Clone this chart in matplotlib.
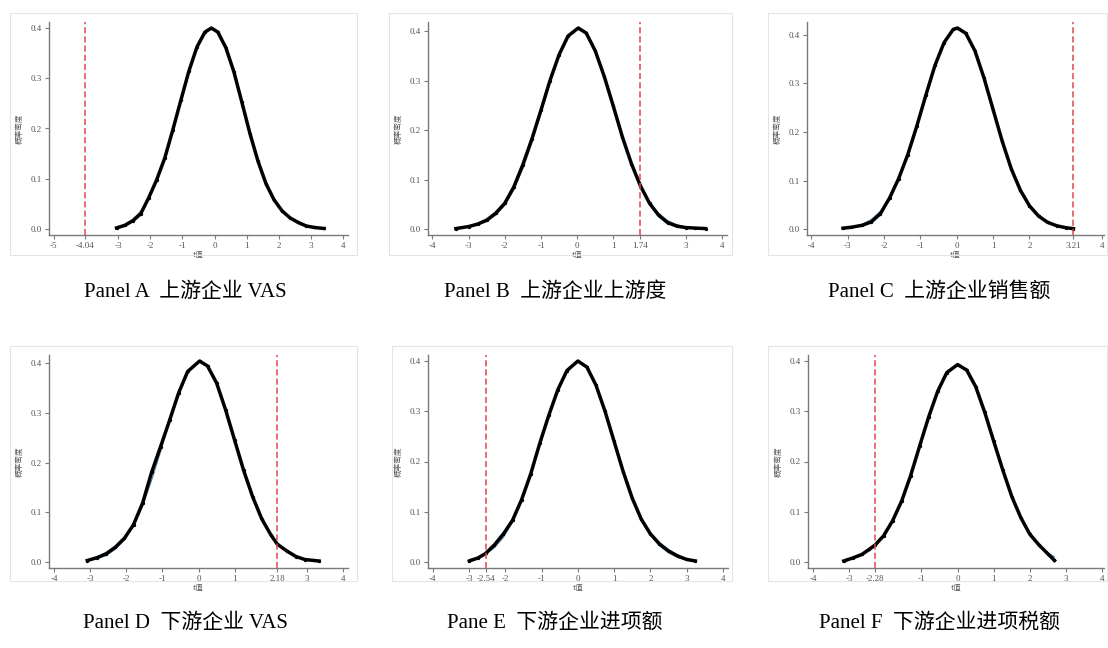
import matplotlib
matplotlib.use('Agg')
import matplotlib.pyplot as plt
from matplotlib.patches import Rectangle

plt.rcParams['axes.unicode_minus'] = False

# panel A
a_x = [-3.05, -2.8, -2.55, -2.3, -2.05, -1.8, -1.55, -1.3, -1.05, -0.8, -0.55, -0.3, -0.1,
       0.1, 0.35, 0.6, 0.85, 1.1, 1.35, 1.6, 1.85, 2.1, 2.35, 2.6, 2.85, 3.1, 3.4]
a_kd = [0.002, 0.007, 0.016, 0.030, 0.062, 0.098, 0.141, 0.197, 0.256, 0.314, 0.362, 0.392, 0.400,
        0.392, 0.361, 0.313, 0.252, 0.190, 0.135, 0.090, 0.058, 0.036, 0.022, 0.013, 0.006, 0.003, 0.001]
a_nm = [0.004, 0.009, 0.019, 0.035, 0.060, 0.094, 0.139, 0.194, 0.254, 0.312, 0.360, 0.391, 0.399,
        0.391, 0.360, 0.312, 0.254, 0.194, 0.139, 0.094, 0.060, 0.036, 0.020, 0.011, 0.005, 0.003, 0.001]
a_t = -4.04
a_ticks = [-5, -4.04, -3, -2, -1, 0, 1, 2, 3, 4]

# panel B
b_x = [-3.35, -3.0, -2.75, -2.5, -2.25, -2.0, -1.75, -1.5, -1.25, -1.0, -0.75, -0.5, -0.25, 0.03,
       0.25, 0.5, 0.75, 1.0, 1.25, 1.5, 1.75, 2.0, 2.25, 2.5, 2.75, 3.0, 3.25, 3.55]
b_kd = [0.001, 0.005, 0.010, 0.018, 0.032, 0.052, 0.085, 0.130, 0.182, 0.240, 0.300, 0.352, 0.390, 0.406,
        0.396, 0.360, 0.308, 0.248, 0.186, 0.132, 0.087, 0.052, 0.028, 0.013, 0.006, 0.003, 0.002, 0.001]
b_nm = [0.001, 0.004, 0.008, 0.015, 0.028, 0.048, 0.079, 0.122, 0.174, 0.233, 0.296, 0.350, 0.389, 0.405,
        0.395, 0.361, 0.310, 0.251, 0.188, 0.134, 0.088, 0.055, 0.032, 0.017, 0.009, 0.004, 0.002, 0.001]
b_t = 1.74
b_ticks = [-4, -3, -2, -1, 0, 1, 1.74, 3, 4]

# panel C
c_x = [-3.13, -2.9, -2.6, -2.35, -2.1, -1.85, -1.6, -1.35, -1.1, -0.85, -0.6, -0.35, -0.1, 0.02,
       0.25, 0.5, 0.75, 1.0, 1.25, 1.5, 1.75, 2.0, 2.25, 2.5, 2.75, 3.0, 3.21]
c_kd = [0.002, 0.004, 0.008, 0.015, 0.032, 0.064, 0.104, 0.153, 0.212, 0.276, 0.337, 0.384, 0.411, 0.414,
        0.403, 0.367, 0.311, 0.246, 0.181, 0.124, 0.080, 0.048, 0.027, 0.014, 0.007, 0.003, 0.001]
c_nm = [0.002, 0.004, 0.010, 0.020, 0.037, 0.063, 0.101, 0.151, 0.211, 0.276, 0.338, 0.385, 0.411, 0.414,
        0.402, 0.366, 0.310, 0.246, 0.183, 0.127, 0.082, 0.050, 0.028, 0.015, 0.007, 0.004, 0.002]
c_t = 3.21
c_ticks = [-4, -3, -2, -1, 0, 1, 2, 3.21, 4]

# panel D
d_x = [-3.08, -2.8, -2.55, -2.3, -2.05, -1.8, -1.55, -1.3, -1.05, -0.8, -0.55, -0.3, 0.03,
       0.25, 0.5, 0.75, 1.0, 1.25, 1.5, 1.75, 2.0, 2.18, 2.45, 2.7, 2.95, 3.34]
d_kd = [0.003, 0.009, 0.017, 0.030, 0.048, 0.075, 0.118, 0.180, 0.232, 0.285, 0.340, 0.383, 0.404,
        0.394, 0.360, 0.306, 0.245, 0.184, 0.131, 0.087, 0.055, 0.036, 0.022, 0.011, 0.005, 0.002]
d_nm = [0.003, 0.007, 0.013, 0.026, 0.044, 0.073, 0.112, 0.164, 0.222, 0.283, 0.339, 0.382, 0.403,
        0.393, 0.361, 0.309, 0.249, 0.189, 0.135, 0.089, 0.056, 0.038, 0.021, 0.011, 0.005, 0.002]
d_t = 2.18
d_ticks = [-4, -3, -2, -1, 0, 1, 2.18, 3, 4]

# panel E
e_x = [-2.99, -2.75, -2.54, -2.3, -2.05, -1.8, -1.55, -1.3, -1.05, -0.8, -0.55, -0.3, 0.0,
       0.25, 0.5, 0.75, 1.0, 1.25, 1.5, 1.75, 2.0, 2.25, 2.5, 2.75, 3.0, 3.24]
e_kd = [0.002, 0.008, 0.017, 0.034, 0.056, 0.083, 0.124, 0.175, 0.236, 0.292, 0.343, 0.381, 0.400,
        0.388, 0.352, 0.300, 0.240, 0.180, 0.127, 0.085, 0.056, 0.036, 0.022, 0.012, 0.005, 0.002]
e_nm = [0.005, 0.009, 0.016, 0.028, 0.049, 0.079, 0.120, 0.171, 0.230, 0.290, 0.343, 0.381, 0.399,
        0.387, 0.352, 0.301, 0.242, 0.183, 0.130, 0.086, 0.054, 0.032, 0.018, 0.009, 0.004, 0.002]
e_t = -2.54
e_ticks = [-4, -3, -2.54, -2, -1, 0, 1, 2, 3, 4]

# panel F
f_x = [-3.15, -2.9, -2.65, -2.45, -2.28, -2.05, -1.8, -1.55, -1.3, -1.05, -0.8, -0.55, -0.3, 0.0,
       0.25, 0.5, 0.75, 1.0, 1.25, 1.5, 1.75, 2.0, 2.25, 2.5, 2.68]
f_kd = [0.002, 0.008, 0.015, 0.025, 0.034, 0.052, 0.082, 0.121, 0.172, 0.231, 0.289, 0.340, 0.377, 0.393,
        0.382, 0.349, 0.298, 0.240, 0.183, 0.130, 0.088, 0.055, 0.034, 0.016, 0.003]
f_nm = [0.003, 0.007, 0.013, 0.022, 0.031, 0.051, 0.082, 0.122, 0.173, 0.231, 0.288, 0.340, 0.376, 0.393,
        0.381, 0.349, 0.299, 0.241, 0.184, 0.131, 0.090, 0.056, 0.033, 0.018, 0.010]
f_t = -2.28
f_ticks = [-4, -3, -2.28, -1, 0, 1, 2, 3, 4]

captions = ['Panel A  上游企业 VAS', 'Panel B  上游企业上游度', 'Panel C  上游企业销售额',
            'Panel D  下游企业 VAS', 'Pane E  下游企业进项额', 'Panel F  下游企业进项税额']
y_ticks = [0.0, 0.1, 0.2, 0.3, 0.4]

panels = [(a_x, a_kd, a_nm, a_t, a_ticks), (b_x, b_kd, b_nm, b_t, b_ticks),
          (c_x, c_kd, c_nm, c_t, c_ticks), (d_x, d_kd, d_nm, d_t, d_ticks),
          (e_x, e_kd, e_nm, e_t, e_ticks), (f_x, f_kd, f_nm, f_t, f_ticks)]

W, H = 1108, 648
# pixel layout: axes (left, right, top, bottom), frame (left, top, right, bottom)
axes_px = [(49, 348, 22, 235), (428, 727, 22, 235), (807, 1104, 22, 235),
           (49, 348, 355, 568), (428, 728, 355, 568), (808, 1104, 355, 568)]
box_px = [(10, 13, 357, 255), (389, 13, 732, 255), (768, 13, 1107, 255),
          (10, 346, 357, 581), (392, 346, 732, 581), (768, 346, 1107, 581)]
xlims = [(-5.15, 4.15), (-4.12, 4.14), (-4.12, 4.05),
         (-4.14, 4.14), (-4.13, 4.14), (-4.14, 4.05)]
cap_x = [185, 555, 939, 185, 555, 939]
cap_y = [292, 292, 292, 623, 623, 623]

fig = plt.figure(figsize=(W / 100, H / 100), dpi=100)
fig.patch.set_facecolor('white')

gray = '#7a7a7a'
cjk = ['Noto Sans CJK SC', 'DejaVu Sans']
serif = ['Liberation Serif', 'Noto Sans CJK SC']

for i, (xs, kd, nm, tv, ticks) in enumerate(panels):
    bl, bt, br, bb = box_px[i]
    fig.add_artist(Rectangle((bl / W, 1 - bb / H), (br - bl) / W, (bb - bt) / H,
                             transform=fig.transFigure, fill=False,
                             edgecolor='#e4e4e4', lw=0.8))
    l, r, t, b = axes_px[i]
    ax = fig.add_axes([l / W, 1 - b / H, (r - l) / W, (b - t) / H])
    ax.plot(xs, nm, color='#4a7fa8', lw=0.8, zorder=2)
    ax.plot(xs, kd, color='black', lw=2.5, marker='o', ms=1.4, zorder=3,
            solid_joinstyle='round')
    ax.axvline(tv, color='#e0474c', lw=1.1, ls=(0, (4, 2)), zorder=4)
    ax.set_xlim(*xlims[i])
    ymax = max(max(kd), 0.4) * 1.03
    ax.set_ylim(-0.012, ymax)
    ax.set_xticks(ticks)
    ax.set_xticklabels([str(int(v)) if float(v).is_integer() else str(v) for v in ticks])
    ax.set_yticks(y_ticks)
    ax.set_yticklabels(['%.1f' % v for v in y_ticks])
    for s in ['top', 'right']:
        ax.spines[s].set_visible(False)
    for s in ['left', 'bottom']:
        ax.spines[s].set_color(gray)
        ax.spines[s].set_linewidth(1.0)
    ax.tick_params(axis='both', colors=gray, labelcolor='#555555', length=3, width=0.8,
                   labelsize=6.5, pad=2)
    for lab in ax.get_xticklabels() + ax.get_yticklabels():
        lab.set_family('Liberation Serif')
    ax.set_xlabel('t值', family=cjk, fontsize=5.5, color='#555555', labelpad=1)
    ax.set_ylabel('概率密度', family=cjk, fontsize=5.5, color='#555555', labelpad=5)

    fig.text(cap_x[i] / W, 1 - cap_y[i] / H, captions[i], family=serif, fontsize=15,
             ha='center', va='center', color='black')

fig.savefig('out.png', dpi=100, facecolor='white')
